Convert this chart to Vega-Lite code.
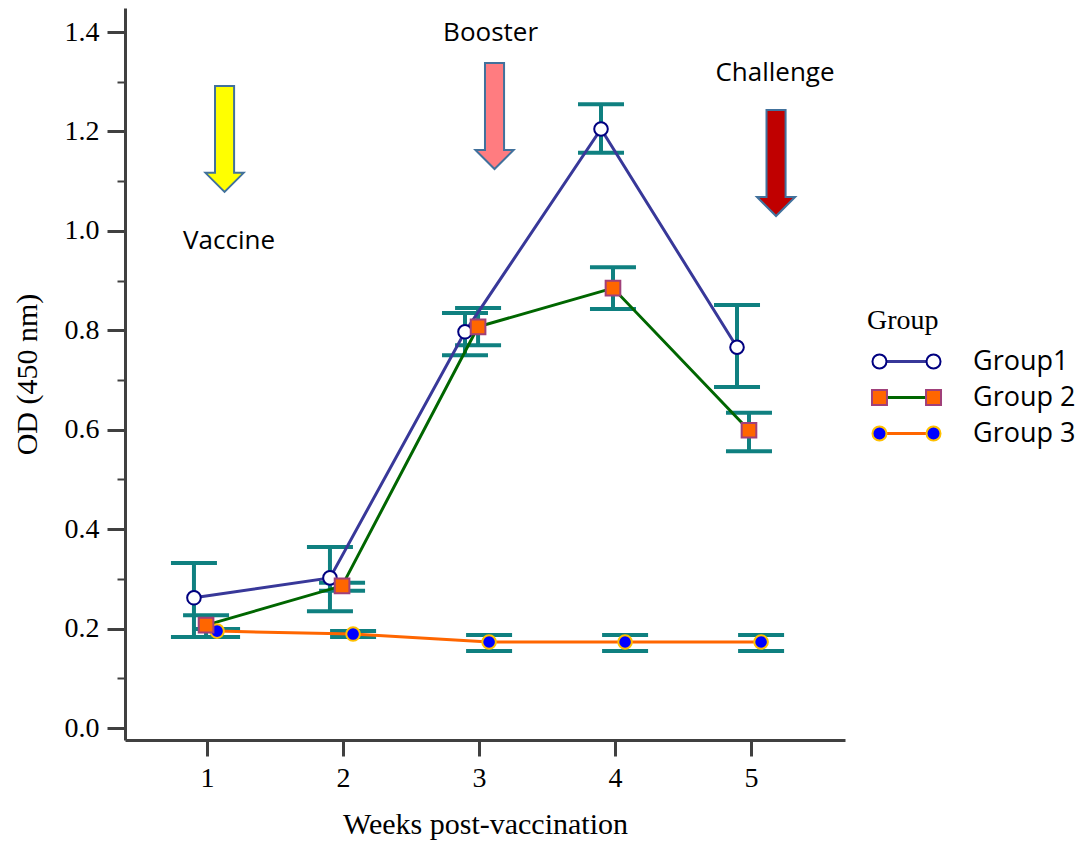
{
  "$schema": "https://vega.github.io/schema/vega-lite/v6.json",
  "width": 720,
  "height": 732,
  "autosize": {"type": "none"},
  "padding": {"left": 125, "top": 8, "right": 238, "bottom": 102},
  "background": "white",
  "config": {
    "view": {"stroke": null},
    "axis": {
      "grid": false,
      "domainColor": "#404040",
      "domainWidth": 3,
      "tickColor": "#404040",
      "tickWidth": 3,
      "labelFont": "Liberation Serif",
      "labelFontSize": 28,
      "labelColor": "black",
      "titleFont": "Liberation Serif",
      "titleFontSize": 30,
      "titleFontWeight": "normal",
      "titleColor": "black"
    }
  },
  "datasets": {
    "od": [
      {"group": "Group1", "week": 0.904, "od": 0.262, "lo": 0.183, "hi": 0.332},
      {"group": "Group1", "week": 1.904, "od": 0.302, "lo": 0.235, "hi": 0.364},
      {"group": "Group1", "week": 2.897, "od": 0.797, "lo": 0.75, "hi": 0.835},
      {"group": "Group1", "week": 3.897, "od": 1.205, "lo": 1.157, "hi": 1.255},
      {"group": "Group1", "week": 4.897, "od": 0.766, "lo": 0.686, "hi": 0.851},
      {"group": "Group 2", "week": 0.993, "od": 0.207, "lo": 0.183, "hi": 0.227},
      {"group": "Group 2", "week": 1.993, "od": 0.286, "lo": 0.276, "hi": 0.292},
      {"group": "Group 2", "week": 2.993, "od": 0.807, "lo": 0.77, "hi": 0.845},
      {"group": "Group 2", "week": 3.985, "od": 0.885, "lo": 0.843, "hi": 0.927},
      {"group": "Group 2", "week": 4.985, "od": 0.599, "lo": 0.557, "hi": 0.634},
      {"group": "Group 3", "week": 1.074, "od": 0.195, "lo": 0.183, "hi": 0.199},
      {"group": "Group 3", "week": 2.074, "od": 0.189, "lo": 0.183, "hi": 0.195},
      {"group": "Group 3", "week": 3.074, "od": 0.173, "lo": 0.155, "hi": 0.187},
      {"group": "Group 3", "week": 4.074, "od": 0.173, "lo": 0.155, "hi": 0.187},
      {"group": "Group 3", "week": 5.074, "od": 0.173, "lo": 0.155, "hi": 0.187}
    ],
    "events": [
      {"event": "Vaccine", "arrow_week": 1.129, "arrow_od": 1.185, "text_week": 1.162, "text_od": 0.963},
      {"event": "Booster", "arrow_week": 3.114, "arrow_od": 1.231, "text_week": 3.085, "text_od": 1.382},
      {"event": "Challenge", "arrow_week": 5.184, "arrow_od": 1.1365, "text_week": 5.176, "text_od": 1.3015}
    ]
  },
  "layer": [
    {
      "data": {"name": "od"},
      "mark": {"type": "rule", "color": "#0f8080", "strokeWidth": 4},
      "encoding": {
        "x": {
          "field": "week", "type": "quantitative",
          "scale": {"domain": [0.397, 5.691], "nice": false, "zero": false},
          "axis": {
            "values": [1, 2, 3, 4, 5], "format": "d", "title": "Weeks post-vaccination",
            "tickSize": 16, "labelPadding": 8, "titlePadding": 17
          }
        },
        "y": {
          "field": "lo", "type": "quantitative",
          "scale": {"domain": [-0.0241, 1.4484], "nice": false, "zero": false},
          "axis": {
            "values": [0, 0.1, 0.2, 0.3, 0.4, 0.5, 0.6, 0.7, 0.8, 0.9, 1.0, 1.1, 1.2, 1.3, 1.4],
            "labelExpr": "round(datum.value*10) % 2 == 0 ? format(datum.value, '.1f') : ''",
            "tickSize": {"condition": {"test": "round(datum.value*10) % 2 == 0", "value": 18}, "value": 8},
            "tickWidth": {"condition": {"test": "round(datum.value*10) % 2 == 0", "value": 3}, "value": 2},
            "labelPadding": 8,
            "title": "OD (450 nm)",
            "titlePadding": 22
          }
        },
        "y2": {"field": "hi"}
      }
    },
    {
      "data": {"name": "od"},
      "mark": {"type": "tick", "orient": "horizontal", "color": "#0f8080", "size": 46, "thickness": 4, "opacity": 1},
      "encoding": {
        "x": {"field": "week", "type": "quantitative"},
        "y": {"field": "lo", "type": "quantitative"}
      }
    },
    {
      "data": {"name": "od"},
      "mark": {"type": "tick", "orient": "horizontal", "color": "#0f8080", "size": 46, "thickness": 4, "opacity": 1},
      "encoding": {
        "x": {"field": "week", "type": "quantitative"},
        "y": {"field": "hi", "type": "quantitative"}
      }
    },
    {
      "data": {"name": "od"},
      "mark": {"type": "line", "strokeWidth": 3},
      "encoding": {
        "x": {"field": "week", "type": "quantitative"},
        "y": {"field": "od", "type": "quantitative"},
        "color": {
          "field": "group", "type": "nominal", "sort": ["Group1", "Group 2", "Group 3"],
          "scale": {"range": ["#383899", "#006600", "#FF6600"]},
          "legend": {
            "orient": "none", "legendX": 742, "legendY": 299,
            "title": "Group", "titleFont": "Liberation Serif", "titleFontSize": 28, "titleFontWeight": "normal", "titleColor": "black", "titlePadding": 13,
            "labelFont": "Open Sans", "labelFontSize": 27, "labelColor": "black", "labelOffset": 53,
            "symbolType": "M -3.86 0 L 3.86 0", "symbolSize": 196, "symbolStrokeWidth": 3, "symbolOffset": 26,
            "rowPadding": 8, "padding": 0
          }
        }
      }
    },
    {
      "data": {"name": "od"},
      "transform": [{"filter": "datum.group !== 'Group 2'"}],
      "mark": {"type": "point", "filled": true, "shape": "circle", "size": 185, "strokeWidth": 2, "opacity": 1},
      "encoding": {
        "x": {"field": "week", "type": "quantitative"},
        "y": {"field": "od", "type": "quantitative"},
        "fill": {"field": "group", "type": "nominal"},
        "stroke": {"field": "group", "type": "nominal"}
      }
    },
    {
      "data": {"name": "od"},
      "transform": [{"filter": "datum.group === 'Group 2'"}],
      "mark": {"type": "point", "filled": true, "shape": "square", "size": 215, "strokeWidth": 2, "opacity": 1},
      "encoding": {
        "x": {"field": "week", "type": "quantitative"},
        "y": {"field": "od", "type": "quantitative"},
        "fill": {"field": "group", "type": "nominal"},
        "stroke": {"field": "group", "type": "nominal"}
      }
    },
    {
      "data": {"name": "od"},
      "transform": [{"filter": "datum.od > 100"}],
      "mark": {"type": "point", "filled": true, "strokeWidth": 2, "opacity": 1},
      "encoding": {
        "x": {"field": "week", "type": "quantitative"},
        "y": {"field": "od", "type": "quantitative"},
        "fill": {
          "field": "group", "type": "nominal",
          "scale": {"domain": ["Group1", "Group 2", "Group 3"], "range": ["#FFFFFF", "#FF6600", "#0000FF"]},
          "legend": {
            "orient": "none", "legendX": 742, "legendY": 299,
            "title": "Group", "titleFont": "Liberation Serif", "titleFontSize": 28, "titleFontWeight": "normal", "titleOpacity": 0, "titlePadding": 13,
            "labelFont": "Open Sans", "labelFontSize": 27, "labelOpacity": 0, "labelOffset": 53,
            "symbolSize": 196, "symbolStrokeWidth": 2, "symbolOffset": 26,
            "rowPadding": 8, "padding": 0
          }
        },
        "stroke": {
          "field": "group", "type": "nominal",
          "scale": {"domain": ["Group1", "Group 2", "Group 3"], "range": ["#000080", "#A0407A", "#FFC000"]},
          "legend": {
            "orient": "none", "legendX": 742, "legendY": 299,
            "title": "Group", "titleFont": "Liberation Serif", "titleFontSize": 28, "titleFontWeight": "normal", "titleOpacity": 0, "titlePadding": 13,
            "labelFont": "Open Sans", "labelFontSize": 27, "labelOpacity": 0, "labelOffset": 53,
            "symbolSize": 196, "symbolStrokeWidth": 2, "symbolOffset": 26,
            "rowPadding": 8, "padding": 0
          }
        },
        "shape": {
          "field": "group", "type": "nominal",
          "scale": {
            "domain": ["Group1", "Group 2", "Group 3"],
            "range": [
              "M -2.86 0 A 1 1 0 1 1 -4.86 0 A 1 1 0 1 1 -2.86 0 Z M 4.86 0 A 1 1 0 1 1 2.86 0 A 1 1 0 1 1 4.86 0 Z",
              "M -4.93 -1.07 L -2.79 -1.07 L -2.79 1.07 L -4.93 1.07 Z M 2.79 -1.07 L 4.93 -1.07 L 4.93 1.07 L 2.79 1.07 Z",
              "M -2.86 0 A 1 1 0 1 1 -4.86 0 A 1 1 0 1 1 -2.86 0 Z M 4.86 0 A 1 1 0 1 1 2.86 0 A 1 1 0 1 1 4.86 0 Z"
            ]
          },
          "legend": {
            "orient": "none", "legendX": 742, "legendY": 299,
            "title": "Group", "titleFont": "Liberation Serif", "titleFontSize": 28, "titleFontWeight": "normal", "titleOpacity": 0, "titlePadding": 13,
            "labelFont": "Open Sans", "labelFontSize": 27, "labelOpacity": 0, "labelOffset": 53,
            "symbolSize": 196, "symbolStrokeWidth": 2, "symbolOffset": 26,
            "rowPadding": 8, "padding": 0
          }
        }
      }
    },
    {
      "data": {"name": "events"},
      "transform": [{"filter": "datum.event === 'Vaccine'"}],
      "mark": {"type": "point", "filled": true, "opacity": 1, "size": 11236, "fill": "#FFFF00", "stroke": "#41719C", "strokeWidth": 2,
        "shape": "M -0.18 -1 L 0.18 -1 L 0.18 0.64 L 0.36 0.64 L 0 1 L -0.36 0.64 L -0.18 0.64 Z"},
      "encoding": {
        "x": {"field": "arrow_week", "type": "quantitative"},
        "y": {"field": "arrow_od", "type": "quantitative"}
      }
    },
    {
      "data": {"name": "events"},
      "transform": [{"filter": "datum.event === 'Booster'"}],
      "mark": {"type": "point", "filled": true, "opacity": 1, "size": 11236, "fill": "#FF7C80", "stroke": "#41719C", "strokeWidth": 2,
        "shape": "M -0.18 -1 L 0.18 -1 L 0.18 0.64 L 0.36 0.64 L 0 1 L -0.36 0.64 L -0.18 0.64 Z"},
      "encoding": {
        "x": {"field": "arrow_week", "type": "quantitative"},
        "y": {"field": "arrow_od", "type": "quantitative"}
      }
    },
    {
      "data": {"name": "events"},
      "transform": [{"filter": "datum.event === 'Challenge'"}],
      "mark": {"type": "point", "filled": true, "opacity": 1, "size": 11236, "fill": "#C00000", "stroke": "#41719C", "strokeWidth": 2,
        "shape": "M -0.18 -1 L 0.18 -1 L 0.18 0.64 L 0.36 0.64 L 0 1 L -0.36 0.64 L -0.18 0.64 Z"},
      "encoding": {
        "x": {"field": "arrow_week", "type": "quantitative"},
        "y": {"field": "arrow_od", "type": "quantitative"}
      }
    },
    {
      "data": {"name": "events"},
      "mark": {"type": "text", "font": "Open Sans", "fontSize": 26, "color": "black", "align": "center", "baseline": "alphabetic"},
      "encoding": {
        "x": {"field": "text_week", "type": "quantitative"},
        "y": {"field": "text_od", "type": "quantitative"},
        "text": {"field": "event", "type": "nominal"}
      }
    }
  ]
}
